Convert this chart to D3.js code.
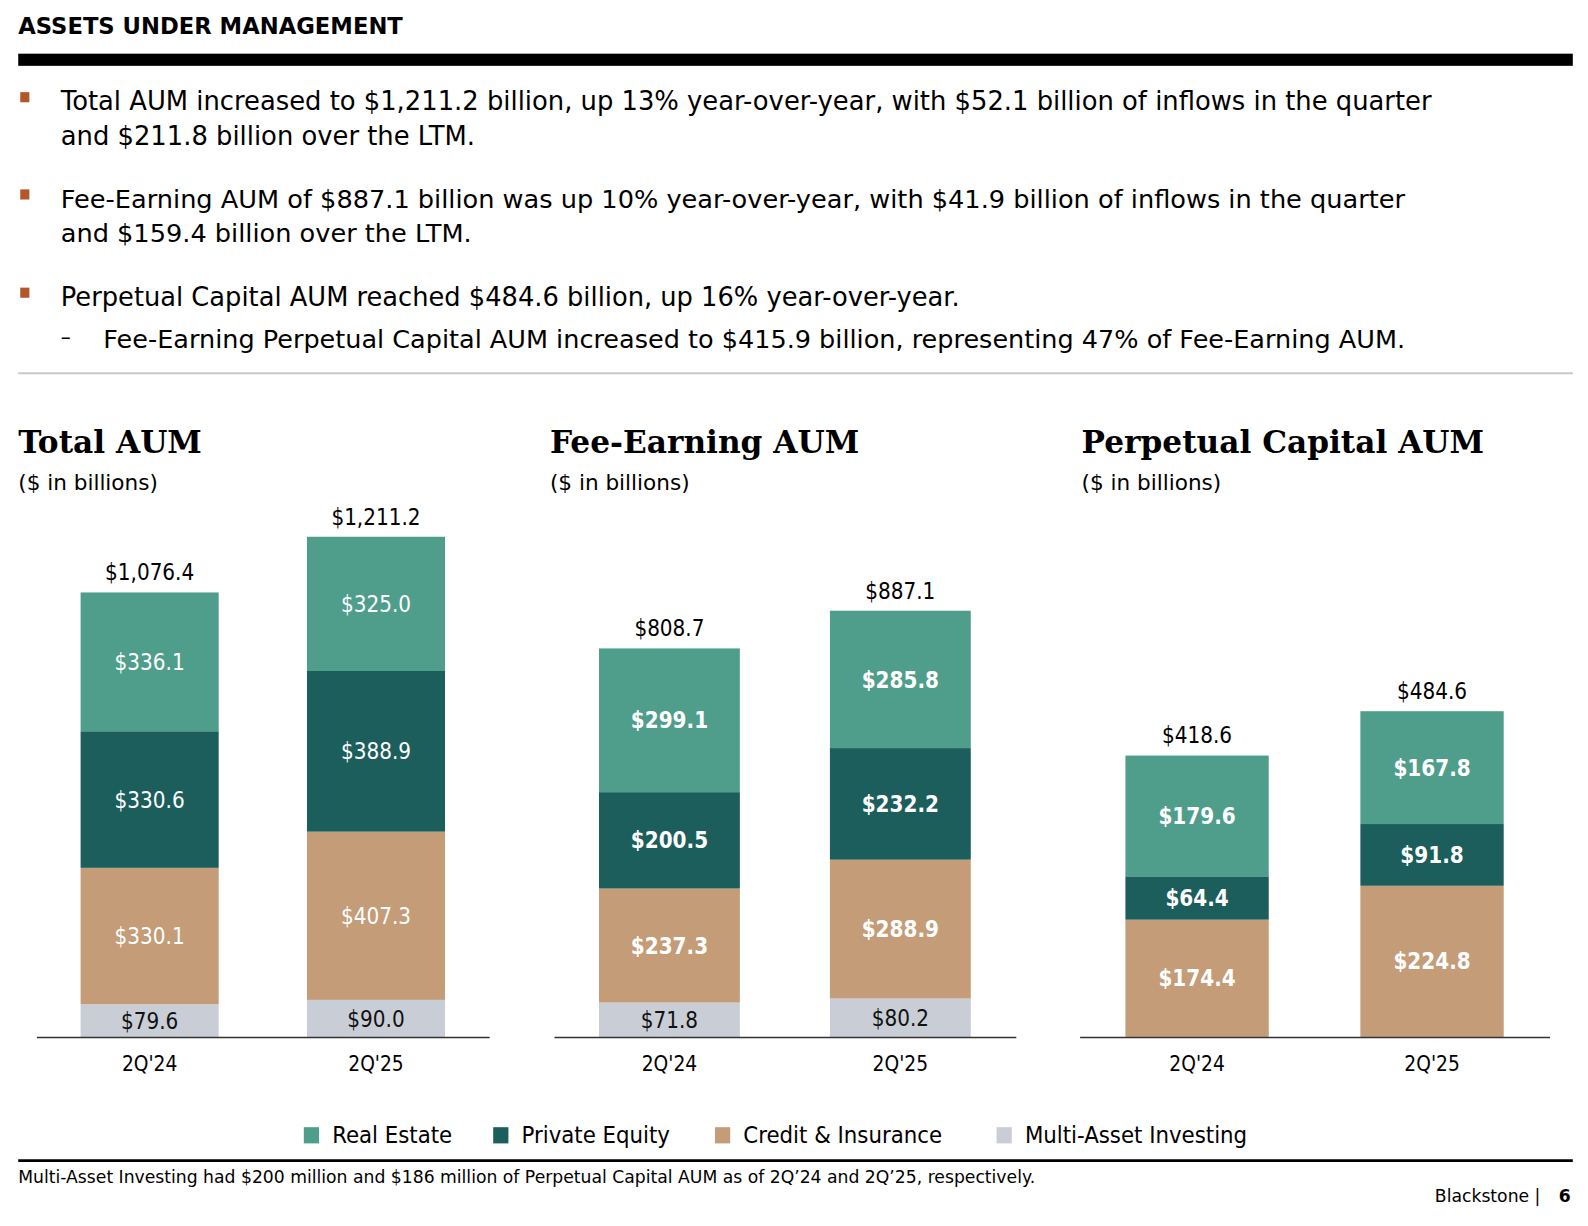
<!DOCTYPE html>
<html>
<head>
<meta charset="utf-8">
<script src="https://cdn.jsdelivr.net/npm/d3@7"></script>
<style>
  html, body { margin: 0; padding: 0; background: #fff; overflow: hidden; }
  svg { display: block; }
  svg text { font-family: "DejaVu Sans Condensed", "DejaVu Sans", sans-serif; }
  svg text.wide { font-family: "DejaVu Sans", sans-serif; }
  svg text.serif { font-family: "DejaVu Serif", "Liberation Serif", serif; }
</style>
</head>
<body>
<script>
(function(){

//chart data
var categories = ["2Q'24", "2Q'25"];
var seriesNames = ["Real Estate", "Private Equity", "Credit & Insurance", "Multi-Asset Investing"];
var seriesColors = ["#4f9e8b", "#1b5e5b", "#c49c77", "#c9ced6"];

var panelTitles = ["Total AUM", "Fee-Earning AUM", "Perpetual Capital AUM"];
var totalAum = [[336.1, 325.0], [330.6, 388.9], [330.1, 407.3], [79.6, 90.0]];
var feeEarningAum = [[299.1, 285.8], [200.5, 232.2], [237.3, 288.9], [71.8, 80.2]];
var perpetualAum = [[179.6, 167.8], [64.4, 91.8], [174.4, 224.8], [0.2, 0.186]];
var panelTotals = [[1076.4, 1211.2], [808.7, 887.1], [418.6, 484.6]];

var bullets = [
    ["Total AUM increased to $1,211.2 billion, up 13% year-over-year, with $52.1 billion of inflows in the quarter",
     "and $211.8 billion over the LTM."],
    ["Fee-Earning AUM of $887.1 billion was up 10% year-over-year, with $41.9 billion of inflows in the quarter",
     "and $159.4 billion over the LTM."],
    ["Perpetual Capital AUM reached $484.6 billion, up 16% year-over-year."]
];
var subBullet = "Fee-Earning Perpetual Capital AUM increased to $415.9 billion, representing 47% of Fee-Earning AUM.";
var footnote = "Multi-Asset Investing had $200 million and $186 million of Perpetual Capital AUM as of 2Q\u201924 and 2Q\u201925, respectively.";

var width = 1588, height = 1226;

//layout was measured on a 1568-wide copy, so scale it up to the page
var svg = d3.select("body")
    .append("svg")
    .attr("width", width)
    .attr("height", height)
    .append("g")
    .attr("transform", "scale(" + (1588 / 1568) + ")");

//header
svg.append("text")
    .attr("class", "wide")
    .attr("x", 18).attr("y", 34)
    .style("font-size", "22.4px").style("font-weight", "bold")
    .text("ASSETS UNDER MANAGEMENT");
svg.append("rect")
    .attr("x", 18).attr("y", 53).attr("width", 1535).attr("height", 12)
    .attr("fill", "#000");

//bullet text
var bulletTops = [100, 196, 293];
var bulletSizes = [25.5, 25.3, 25.4];
bullets.forEach(function(lines, i){
    svg.append("rect")
        .attr("x", 20).attr("y", bulletTops[i] - 9).attr("width", 9).attr("height", 10)
        .attr("fill", "#b5562a");
    lines.forEach(function(line, j){
        svg.append("text")
            .attr("class", "wide")
            .attr("x", 60).attr("y", bulletTops[i] + 9 + j * 34)
            .style("font-size", bulletSizes[i] + "px")
            .text(line);
    });
});
svg.append("text")
    .attr("x", 60).attr("y", 341)
    .style("font-size", "22px")
    .text("\u2013");
svg.append("text")
    .attr("class", "wide")
    .attr("x", 102).attr("y", 344)
    .style("font-size", "25.2px")
    .text(subBullet);

svg.append("line")
    .attr("x1", 18).attr("x2", 1553).attr("y1", 368.5).attr("y2", 368.5)
    .attr("stroke", "#c8c8c8").attr("stroke-width", 2);

//panels
var panelData = [totalAum, feeEarningAum, perpetualAum];
var panelTitleX = [18, 543, 1068];
var panelAxis = [[36, 483], [547, 1003], [1066, 1530]];
var panelYMax = [1211.2, 1041, 744];
var boldInside = [false, true, true];
var baseY = 1024, topY = 530;

panelData.forEach(function(data, p){
    var g = svg.append("g");

    g.append("text")
        .attr("class", "serif")
        .attr("x", panelTitleX[p]).attr("y", 447)
        .style("font-size", "30.8px").style("font-weight", "bold")
        .text(panelTitles[p]);
    g.append("text")
        .attr("class", "wide")
        .attr("x", panelTitleX[p]).attr("y", 484)
        .style("font-size", "21.3px")
        .text("($ in billions)");

    var x = d3.scaleBand()
        .domain(categories)
        .range(panelAxis[p])
        .paddingInner(0.39)
        .paddingOuter(0.195);

    var y = d3.scaleLinear()
        .domain([0, panelYMax[p]])
        .range([baseY, topY]);

    //build stack rows: one row per category
    var rows = categories.map(function(c, ci){
        var r = { cat: c };
        seriesNames.forEach(function(s, si){ r[s] = data[si][ci]; });
        return r;
    });
    var stack = d3.stack().keys(seriesNames.slice().reverse());
    var layers = stack(rows);

    var layer = g.selectAll(".layer")
        .data(layers)
        .enter()
        .append("g")
        .attr("class", "layer")
        .attr("fill", function(d){ return seriesColors[seriesNames.indexOf(d.key)]; });

    layer.selectAll("rect")
        .data(function(d){ return d; })
        .enter()
        .append("rect")
        .attr("x", function(d){ return x(d.data.cat); })
        .attr("width", x.bandwidth())
        .attr("y", function(d){ return y(d[1]); })
        .attr("height", function(d){ return y(d[0]) - y(d[1]); });

    //segment labels (skip slivers that are too thin to hold text)
    layers.forEach(function(l){
        var dark = l.key === "Multi-Asset Investing";
        l.forEach(function(d){
            var v = d[1] - d[0];
            if (y(d[0]) - y(d[1]) < 20) return;
            g.append("text")
                .attr("x", x(d.data.cat) + x.bandwidth() / 2)
                .attr("y", (y(d[0]) + y(d[1])) / 2 + 8)
                .attr("text-anchor", "middle")
                .attr("fill", dark ? "#111" : "#fff")
                .style("font-size", "22px")
                .style("font-weight", (!dark && boldInside[p]) ? "bold" : "normal")
                .text("$" + d3.format(",.1f")(v));
        });
    });

    //totals on top
    g.selectAll(".total")
        .data(categories)
        .enter()
        .append("text")
        .attr("class", "total")
        .attr("x", function(c){ return x(c) + x.bandwidth() / 2; })
        .attr("y", function(c, ci){ return y(panelTotals[p][ci]) - 12; })
        .attr("text-anchor", "middle")
        .style("font-size", "22px")
        .text(function(c, ci){ return "$" + d3.format(",.1f")(panelTotals[p][ci]); });

    //baseline axis
    var axis = g.append("g")
        .attr("transform", "translate(0," + baseY + ")")
        .call(d3.axisBottom(x).tickSize(0).tickPadding(19));
    axis.select(".domain").attr("stroke", "#333").attr("stroke-width", 1.5);
    axis.selectAll("text")
        .style("font-size", "20.5px")
        .style("font-family", "\"DejaVu Sans Condensed\", sans-serif")
        .attr("fill", "#000");
});

//legend
var legendX = [300, 487, 706, 984];
var legend = svg.selectAll(".legend")
    .data(seriesNames)
    .enter()
    .append("g")
    .attr("class", "legend")
    .attr("transform", function(d, i){ return "translate(" + legendX[i] + ",1113)"; });
legend.append("rect")
    .attr("width", 15).attr("height", 16)
    .attr("fill", function(d, i){ return seriesColors[i]; });
legend.append("text")
    .attr("x", 28).attr("y", 16)
    .style("font-size", "23.4px")
    .text(function(d){ return d; });

//footer
svg.append("line")
    .attr("x1", 18).attr("x2", 1553).attr("y1", 1146).attr("y2", 1146)
    .attr("stroke", "#000").attr("stroke-width", 2.5);
svg.append("text")
    .attr("class", "wide")
    .attr("x", 18).attr("y", 1168)
    .style("font-size", "17px")
    .text(footnote);
svg.append("text")
    .attr("class", "wide")
    .attr("x", 1521).attr("y", 1187)
    .attr("text-anchor", "end")
    .style("font-size", "17px")
    .text("Blackstone |");
svg.append("text")
    .attr("class", "wide")
    .attr("x", 1551).attr("y", 1187)
    .attr("text-anchor", "end")
    .style("font-size", "17px").style("font-weight", "bold")
    .text("6");

})();
</script>
</body>
</html>
